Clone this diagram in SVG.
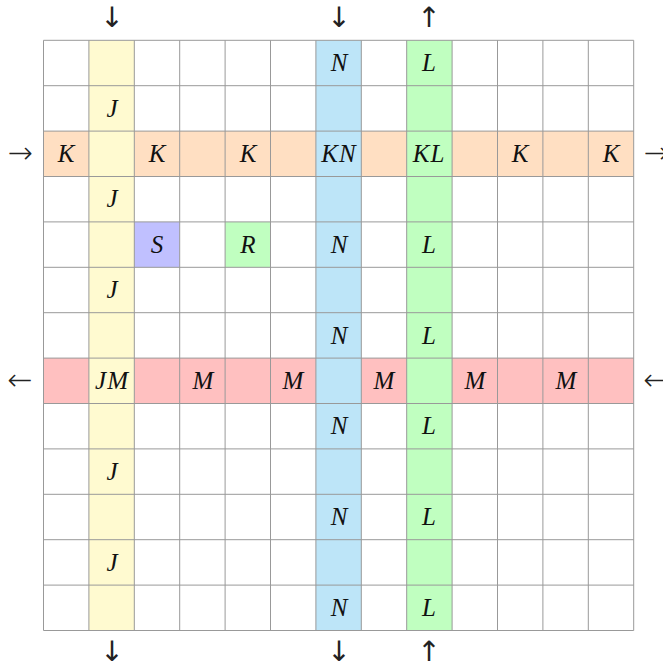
<svg xmlns="http://www.w3.org/2000/svg" width="663" height="668" viewBox="0 0 663 668">
<style>
.t{font-family:"Liberation Serif","Times New Roman",serif;font-style:italic;font-size:25px;text-anchor:middle;fill:#111}
.a{font-family:"DejaVu Sans",sans-serif;font-weight:200;font-size:30px;text-anchor:middle;fill:#222}
.v{font-family:"DejaVu Sans",sans-serif;font-size:28px;text-anchor:middle;fill:#222}
.g{stroke:#999;stroke-width:1;fill:none}
</style>
<rect width="663" height="668" fill="#fff"/>
<g id="bands">
<rect x="43.5" y="131" width="590.2" height="45.4" fill="#ffdfc2"/>
<rect x="43.5" y="358" width="590.2" height="45.4" fill="#ffc0c0"/>
<rect x="88.9" y="40.3" width="45.4" height="590.2" fill="#fffad0"/>
<rect x="315.9" y="40.3" width="45.4" height="590.2" fill="#bde5f8"/>
<rect x="406.7" y="40.3" width="45.4" height="590.2" fill="#c0ffc0"/>
<rect id="cellS" x="134.3" y="221.9" width="45.4" height="45.4" fill="#c0c0ff"/>
<rect id="cellR" x="225.1" y="221.9" width="45.4" height="45.4" fill="#c0ffc0"/>
</g>
<g id="grid" class="g">
<path d="M43.5 40.3V630.5M88.9 40.3V630.5M134.3 40.3V630.5M179.7 40.3V630.5M225.1 40.3V630.5M270.5 40.3V630.5M315.9 40.3V630.5M361.3 40.3V630.5M406.7 40.3V630.5M452.1 40.3V630.5M497.5 40.3V630.5M542.9 40.3V630.5M588.3 40.3V630.5M633.7 40.3V630.5"/>
<path d="M43.5 40.3H633.7M43.5 85.7H633.7M43.5 131.1H633.7M43.5 176.5H633.7M43.5 221.9H633.7M43.5 267.3H633.7M43.5 312.7H633.7M43.5 358.1H633.7M43.5 403.5H633.7M43.5 448.9H633.7M43.5 494.3H633.7M43.5 539.7H633.7M43.5 585.1H633.7M43.5 630.5H633.7"/>
</g>
<g id="labels">
<text class="t" x="339" y="71">N</text><text class="t" x="429" y="71">L</text>
<text class="t" x="112" y="117">J</text>
<text class="t" x="66" y="162">K</text><text class="t" x="157" y="162">K</text><text class="t" x="248" y="162">K</text>
<text class="t" x="339" y="162" letter-spacing="1">KN</text><text class="t" x="429" y="162" letter-spacing="1">KL</text>
<text class="t" x="520" y="162">K</text><text class="t" x="611" y="162">K</text>
<text class="t" x="112" y="207">J</text>
<text class="t" x="157" y="253">S</text><text class="t" x="248" y="253">R</text>
<text class="t" x="339" y="253">N</text><text class="t" x="429" y="253">L</text>
<text class="t" x="112" y="298">J</text>
<text class="t" x="339" y="344">N</text><text class="t" x="429" y="344">L</text>
<text class="t" x="112" y="389" letter-spacing="1">JM</text><text class="t" x="203" y="389">M</text><text class="t" x="293" y="389">M</text>
<text class="t" x="384" y="389">M</text><text class="t" x="475" y="389">M</text><text class="t" x="566" y="389">M</text>
<text class="t" x="339" y="434">N</text><text class="t" x="429" y="434">L</text>
<text class="t" x="112" y="480">J</text>
<text class="t" x="339" y="525">N</text><text class="t" x="429" y="525">L</text>
<text class="t" x="112" y="571">J</text>
<text class="t" x="339" y="616">N</text><text class="t" x="429" y="616">L</text>
</g>
<g id="arrows">
<text class="v" x="112" y="27">↓</text><text class="v" x="339" y="27">↓</text><text class="v" x="429" y="27">↑</text>
<text class="v" x="112" y="661">↓</text><text class="v" x="339" y="661">↓</text><text class="v" x="429" y="661">↑</text>
<text class="a" x="20" y="163">→</text><text class="a" x="656" y="163">→</text>
<text class="a" x="20" y="390">←</text><text class="a" x="656" y="390">←</text>
</g>
</svg>
